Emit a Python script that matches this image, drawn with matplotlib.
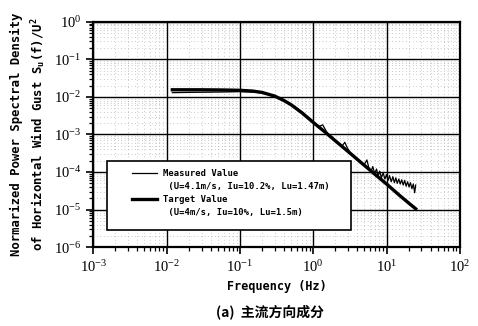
import numpy as np
import matplotlib
matplotlib.use("Agg")
import matplotlib.pyplot as plt
from matplotlib.lines import Line2D
from matplotlib.patches import Rectangle

# target spectrum
f_target = [0.012, 0.03, 0.06, 0.1, 0.15, 0.2, 0.3, 0.4, 0.5, 0.7,
            1.0, 1.5, 2.0, 3.0, 5.0, 7.0, 10, 15, 20, 25]
s_target = [0.0155, 0.0155, 0.0153, 0.0150, 0.0143, 0.0132, 0.0105, 0.0080, 0.0062, 0.0038,
            0.0021, 0.00110, 0.00068, 0.00035, 0.00015, 8.6e-5, 4.8e-5, 2.4e-5, 1.5e-5, 1.05e-5]

# measured spectrum
f_meas = [0.012, 0.02, 0.04, 0.07, 0.1, 0.15, 0.2, 0.3, 0.4, 0.5,
          0.6, 0.7, 0.8, 0.9, 1.0, 1.15, 1.25, 1.35, 1.45, 1.6,
          1.8, 2.0, 2.3, 2.5, 2.7, 2.9, 3.2, 3.6, 4.0, 4.5,
          5.0, 5.4, 5.8, 6.2, 6.5, 6.9, 7.3, 7.7, 8.1, 8.5,
          9.0, 9.5, 10.0, 10.5, 11.0, 11.6, 12.2, 12.8, 13.4, 14.0,
          14.7, 15.4, 16.1, 16.9, 17.7, 18.5, 19.4, 20.3, 21.2, 22.2,
          23.2, 24.2, 25.0]
s_meas = [0.0130, 0.0132, 0.0134, 0.0136, 0.0138, 0.0135, 0.0128, 0.0104, 0.0082, 0.0064,
          0.0050, 0.0040, 0.0032, 0.0027, 0.0022, 0.0016, 0.0017, 0.0018, 0.0014, 0.0010,
          0.00085, 0.00070, 0.00055, 0.00050, 0.00062, 0.00045, 0.00033, 0.00026, 0.00021, 0.00017,
          0.00016, 0.00021, 0.00012, 1.1e-4, 1.4e-4, 9e-5, 1.2e-4, 8e-5, 1.05e-4, 7e-5,
          9.5e-5, 6.5e-5, 8.5e-5, 6e-5, 8e-5, 5.5e-5, 7.5e-5, 5.2e-5, 7e-5, 5e-5,
          6.5e-5, 4.8e-5, 6.2e-5, 4.5e-5, 6e-5, 4.2e-5, 5.5e-5, 4e-5, 5.2e-5, 3.6e-5,
          4.8e-5, 2.8e-5, 4.5e-5]

mono = "DejaVu Sans Mono"
serif = "Liberation Serif"

fig = plt.figure(figsize=(4.78, 3.26), dpi=100)
ax = fig.add_axes([0.195, 0.242, 0.767, 0.691])

ax.loglog(f_meas, s_meas, color="black", lw=0.9, zorder=2)
ax.loglog(f_target, s_target, color="black", lw=2.4, zorder=2)

ax.set_xlim(1e-3, 1e2)
ax.set_ylim(1e-6, 1e0)

ax.grid(which="major", color="black", lw=1.0, ls="-")
ax.grid(which="minor", color="0.6", lw=0.5, ls=(0, (1, 4)))
ax.set_axisbelow(True)
for sp in ax.spines.values():
    sp.set_linewidth(1.6)

ax.tick_params(which="major", direction="out", length=5, width=1.2,
               labelsize=10.5, labelfontfamily=serif)
ax.tick_params(which="minor", direction="out", length=3, width=0.9)

ax.set_xlabel("Frequency (Hz)", family=mono, weight="bold", fontsize=8.5, labelpad=4)
ax.set_ylabel("Normarized Power Spectral Density\n"
              "of Horizontal Wind Gust S$_{\\mathdefault{u}}$(f)/U$^{\\mathdefault{2}}$",
              family=mono, weight="bold", fontsize=8.8, linespacing=1.5, labelpad=4)

# legend box
ax.add_patch(Rectangle((0.038, 0.076), 0.665, 0.306, transform=ax.transAxes,
                       facecolor="white", edgecolor="black", lw=1.2, zorder=3))
blank = Line2D([], [], color="none")
h_meas = Line2D([], [], color="black", lw=0.9)
h_targ = Line2D([], [], color="black", lw=2.4)
leg = ax.legend([h_meas, blank, h_targ, blank],
                ["Measured Value", " (U=4.1m/s, Iu=10.2%, Lu=1.47m)",
                 "Target Value", " (U=4m/s, Iu=10%, Lu=1.5m)"],
                loc="upper left", bbox_to_anchor=(0.106, 0.345), borderaxespad=0,
                borderpad=0, frameon=False, handlelength=2.8, handletextpad=0.7,
                labelspacing=0.42, prop={"family": mono, "weight": "bold", "size": 6.4})
leg.set_zorder(4)

fig.text(0.565, 0.043, "(a)  主流方向成分", ha="center", va="center", fontsize=10,
         weight="bold", family=["Noto Sans CJK SC", "DejaVu Sans"])

fig.savefig("out.png", dpi=100)
